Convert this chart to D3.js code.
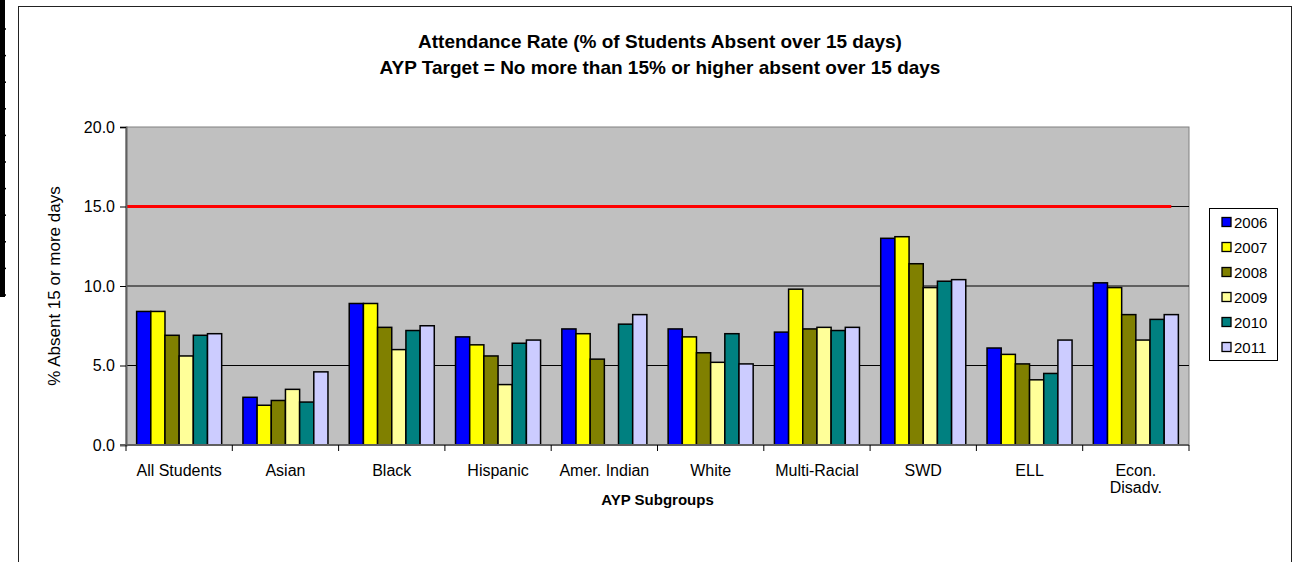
<!DOCTYPE html>
<html>
<head>
<meta charset="utf-8">
<script src="https://cdn.jsdelivr.net/npm/d3@7"></script>
<style>
  body { margin: 0; background: #fff; }
  svg { display: block; font-family: "Liberation Sans", Arial, sans-serif; }
</style>
</head>
<body>
<svg id="chart"></svg>
<script>
// data
const categories = ["All Students", "Asian", "Black", "Hispanic", "Amer. Indian",
                    "White", "Multi-Racial", "SWD", "ELL", "Econ.\nDisadv."];
const years = ["2006", "2007", "2008", "2009", "2010", "2011"];
const v2006 = [8.4, 3.0, 8.9, 6.8, 7.3, 7.3, 7.1, 13.0, 6.1, 10.2];
const v2007 = [8.4, 2.5, 8.9, 6.3, 7.0, 6.8, 9.8, 13.1, 5.7, 9.9];
const v2008 = [6.9, 2.8, 7.4, 5.6, 5.4, 5.8, 7.3, 11.4, 5.1, 8.2];
const v2009 = [5.6, 3.5, 6.0, 3.8, null, 5.2, 7.4, 9.9, 4.1, 6.6];
const v2010 = [6.9, 2.7, 7.2, 6.4, 7.6, 7.0, 7.2, 10.3, 4.5, 7.9];
const v2011 = [7.0, 4.6, 7.5, 6.6, 8.2, 5.1, 7.4, 10.4, 6.6, 8.2];
const yTicks = [0, 5, 10, 15, 20];
const target = 15;

const series = [v2006, v2007, v2008, v2009, v2010, v2011];
const colors = ["#0000ff", "#ffff00", "#808000", "#ffff99", "#008080", "#ccccff"];

const W = 1299, H = 562;
const plot = {left: 126, right: 1189, top: 127, bottom: 445};

const svg = d3.select("#chart").attr("width", W).attr("height", H);

// bit of a table cut off at the left edge
svg.append("rect").attr("x", 0).attr("y", 0).attr("width", 5).attr("height", 297).attr("fill", "#000");
svg.selectAll(".row").data(d3.range(11)).enter().append("line")
   .attr("x1", 0).attr("x2", 6)
   .attr("y1", i => 29 + i * 26.6).attr("y2", i => 29 + i * 26.6)
   .attr("stroke", "#000").attr("stroke-width", 1.5);

// chart frame
svg.append("rect").attr("x", 18.5).attr("y", 6.5).attr("width", 1273).attr("height", 600)
   .attr("fill", "#fff").attr("stroke", "#222").attr("stroke-width", 1);

const x0 = d3.scaleBand().domain(categories).range([plot.left, plot.right])
             .paddingInner(0.2).paddingOuter(0.1);
const x1 = d3.scaleBand().domain(years).range([0, x0.bandwidth()]);
const y = d3.scaleLinear().domain([0, 20]).range([plot.bottom, plot.top]);

// plot area
svg.append("rect").attr("x", plot.left).attr("y", plot.top)
   .attr("width", plot.right - plot.left).attr("height", plot.bottom - plot.top)
   .attr("fill", "#c0c0c0").attr("stroke", "#808080").attr("stroke-width", 1);

svg.selectAll(".grid").data(yTicks.filter(t => t > 0 && t < 20)).enter().append("line")
   .attr("x1", plot.left).attr("x2", plot.right)
   .attr("y1", d => y(d)).attr("y2", d => y(d))
   .attr("stroke", "#000").attr("stroke-width", 1);

// bars
const groups = svg.selectAll(".grp").data(categories).enter().append("g")
   .attr("transform", d => `translate(${x0(d)},0)`);

groups.selectAll("rect")
   .data((d, i) => years.map((yr, k) => ({yr, k, v: series[k][i]})).filter(e => e.v != null))
   .enter().append("rect")
   .attr("x", e => x1(e.yr))
   .attr("y", e => y(e.v))
   .attr("width", x1.bandwidth())
   .attr("height", e => y(0) - y(e.v))
   .attr("fill", e => colors[e.k])
   .attr("stroke", "#000").attr("stroke-width", 1.5);

// target line
const last = categories[categories.length - 1];
svg.append("line")
   .attr("x1", plot.left)
   .attr("x2", x0(last) + x1(years[years.length - 1]) + x1.bandwidth() / 2)
   .attr("y1", y(target)).attr("y2", y(target))
   .attr("stroke", "#ff0000").attr("stroke-width", 3);

// y axis
const yAxis = d3.axisLeft(y).tickValues(yTicks).tickFormat(d3.format(".1f")).tickSize(6).tickPadding(5);
const yg = svg.append("g").attr("transform", `translate(${plot.left},0)`).call(yAxis);
yg.select(".domain").attr("stroke", "#606060").attr("stroke-width", 2);
yg.selectAll(".tick line").attr("stroke", "#000");
yg.selectAll("text").attr("font-size", 16).attr("fill", "#000").attr("font-family", null);

// x axis: labels at centers, ticks at boundaries
const xg = svg.append("g").attr("transform", `translate(0,${plot.bottom})`);
xg.append("line").attr("x1", plot.left - 6).attr("x2", plot.right)
  .attr("stroke", "#606060").attr("stroke-width", 2);
xg.selectAll(".bt").data(d3.range(categories.length + 1)).enter().append("line")
  .attr("x1", i => plot.left + i * x0.step()).attr("x2", i => plot.left + i * x0.step())
  .attr("y1", 0).attr("y2", 6).attr("stroke", "#000");
const labels = xg.selectAll(".lab").data(categories).enter().append("text")
  .attr("x", d => x0(d) + x0.bandwidth() / 2)
  .attr("y", 31)
  .attr("text-anchor", "middle").attr("font-size", 16).attr("fill", "#000");
labels.each(function(d) {
  d.split("\n").forEach((part, i) => {
    d3.select(this).append("tspan").attr("x", x0(d) + x0.bandwidth() / 2)
      .attr("dy", i === 0 ? 0 : 17).text(part);
  });
});

// titles
const title = svg.append("text").attr("x", 660).attr("text-anchor", "middle")
   .attr("font-size", 19).attr("font-weight", "bold").attr("fill", "#000");
title.append("tspan").attr("x", 660).attr("y", 48).text("Attendance Rate (% of Students Absent over 15 days)");
title.append("tspan").attr("x", 660).attr("y", 74).text("AYP Target = No more than 15% or higher absent over 15 days");

svg.append("text").attr("x", (plot.left + plot.right) / 2).attr("y", 505)
   .attr("text-anchor", "middle").attr("font-size", 15).attr("font-weight", "bold")
   .text("AYP Subgroups");

svg.append("text")
   .attr("transform", `translate(60,${(plot.top + plot.bottom) / 2}) rotate(-90)`)
   .attr("text-anchor", "middle").attr("font-size", 17)
   .text("% Absent 15 or more days");

// legend
const lg = svg.append("g").attr("transform", "translate(1209,208)");
lg.append("rect").attr("x", 0.5).attr("y", 0.5).attr("width", 68).attr("height", 152)
  .attr("fill", "#fff").attr("stroke", "#000");
const items = lg.selectAll(".it").data(years).enter().append("g")
  .attr("transform", (d, i) => `translate(13,${14 + i * 25})`);
items.append("rect").attr("x", 0).attr("y", -4.5).attr("width", 9).attr("height", 9)
  .attr("fill", (d, i) => colors[i]).attr("stroke", "#000").attr("stroke-width", 1.3);
items.append("text").attr("x", 12).attr("y", 5.5).attr("font-size", 15).text(d => d);
</script>
</body>
</html>
